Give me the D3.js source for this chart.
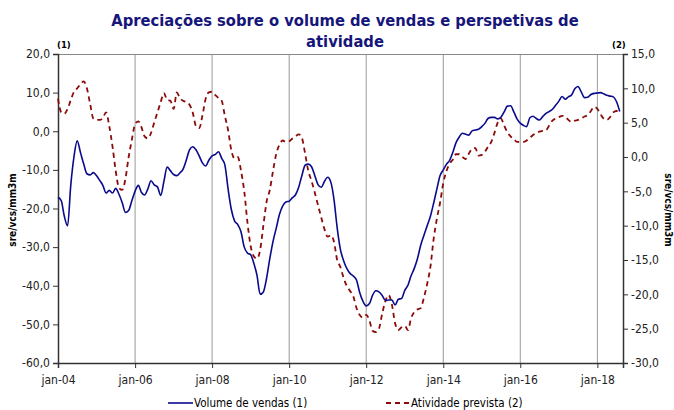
<!DOCTYPE html>
<html><head><meta charset="utf-8">
<script src="https://cdn.jsdelivr.net/npm/d3@7"></script>
<style>body{margin:0;background:#fff}svg{display:block}text{font-family:"DejaVu Sans Condensed","DejaVu Sans",sans-serif;font-stretch:condensed}</style>
</head><body><div id="chart"></div>
<script>
const titleLines = ["Apreciações sobre o volume de vendas e perspetivas de", "atividade"];
const seriesNames = ["Volume de vendas (1)", "Atividade prevista (2)"];
const axisTitle = "sre/vcs/mm3m";
const startMonth = new Date(2004, 0, 1);
const xTickLabels = ["jan-04","jan-06","jan-08","jan-10","jan-12","jan-14","jan-16","jan-18"];
const leftTicks = [20,10,0,-10,-20,-30,-40,-50,-60];
const rightTicks = [15,10,5,0,-5,-10,-15,-20,-25,-30];
// Volume de vendas (1), left axis, monthly from jan-04
const volumeVendas = [
-17.1,-18.0,-22.0,-24.5,-14.0,-6.5,-2.5,-5.5,-8.5,-11.0,-11.3,-10.7,
-11.5,-12.8,-14.0,-16.0,-15.3,-16.0,-14.8,-16.3,-18.5,-21.0,-20.5,-18.0,
-15.5,-14.0,-15.8,-16.5,-15.0,-12.8,-13.9,-14.4,-16.6,-13.0,-9.3,-10.2,
-11.2,-11.5,-10.8,-9.8,-7.5,-4.8,-4.0,-4.8,-6.4,-8.2,-9.0,-7.5,
-6.4,-6.0,-5.3,-7.0,-8.7,-15.0,-20.2,-23.2,-24.2,-26.0,-30.0,-31.5,
-32.0,-34.3,-37.2,-42.2,-41.6,-38.0,-33.0,-28.5,-25.0,-21.5,-19.3,-18.3,
-18.1,-17.2,-16.5,-14.5,-11.5,-8.8,-8.5,-9.2,-11.5,-13.8,-14.5,-13.0,
-11.9,-13.3,-17.5,-25.0,-30.5,-33.5,-35.5,-36.8,-37.5,-38.5,-41.8,-44.0,
-45.2,-44.6,-42.5,-41.3,-41.6,-42.5,-43.8,-43.7,-43.7,-45.0,-43.5,-43.3,
-41.2,-39.8,-37.5,-35.5,-33.0,-29.5,-27.0,-24.5,-22.0,-18.7,-15.0,-11.5,
-10.0,-8.5,-7.6,-5.5,-3.0,-1.5,-0.5,-0.8,-1.0,0.1,0.3,0.5,
1.2,2.1,3.3,3.6,3.6,3.2,3.6,5.0,6.5,6.6,5.0,3.2,
2.1,1.5,1.2,3.5,3.9,3.3,2.9,3.8,4.6,5.1,5.7,6.7,
7.8,9.0,8.3,8.9,9.4,11.0,11.6,10.2,8.7,8.8,9.5,9.8,
9.9,10.0,9.7,9.3,9.1,8.9,7.7,5.1];
// Atividade prevista (2), right axis, monthly from jan-04
const atividadePrevista = [
8.5,6.5,6.3,7.0,8.3,9.5,10.0,10.6,11.0,10.0,7.7,5.6,
5.4,5.4,5.7,6.5,4.5,1.5,-2.0,-4.5,-4.8,-3.2,0.0,2.5,
4.8,5.2,4.4,3.0,2.7,3.5,5.0,6.5,8.0,9.3,8.3,8.2,
7.0,9.4,8.6,8.2,8.0,7.6,6.5,4.5,4.2,6.0,8.5,9.4,
9.5,9.0,8.6,8.2,6.0,3.9,1.0,-0.2,0.0,-2.0,-5.0,-9.5,
-13.0,-14.5,-14.8,-13.5,-10.0,-6.5,-4.8,-2.0,0.5,1.8,2.4,2.2,
2.3,2.7,3.0,3.3,2.8,0.5,-2.0,-3.5,-5.2,-7.0,-8.8,-10.5,
-11.6,-11.4,-12.3,-15.0,-16.0,-17.6,-18.8,-19.5,-20.3,-22.0,-23.0,-23.4,
-23.0,-23.8,-25.3,-25.5,-25.0,-22.8,-21.0,-20.1,-21.5,-24.2,-25.2,-24.8,
-24.6,-25.2,-23.5,-22.6,-22.2,-22.0,-20.5,-18.5,-16.0,-12.0,-9.0,-6.7,
-3.8,-2.0,-1.0,-0.4,0.4,0.4,0.0,-0.3,0.5,1.2,1.3,0.2,
0.3,0.8,1.5,2.2,3.5,5.0,5.6,4.6,3.6,3.0,2.6,2.2,
2.2,2.2,2.4,2.8,3.2,3.5,3.7,3.8,3.9,4.6,5.3,5.6,
5.8,6.0,5.9,5.4,5.1,5.3,5.4,5.6,5.9,6.1,6.7,7.3,
7.0,6.2,5.6,5.4,5.8,6.5,6.7,6.7];

const W = 674, H = 410;
const m = {left: 58, right: 623, top: 54, bottom: 363};
const svg = d3.select("#chart").append("svg").attr("width", W).attr("height", H);
const monthDate = i => new Date(2004, i, 1);
const x = d3.scaleTime().domain([startMonth, new Date(2018, 8, 1)]).range([m.left, m.right]);
const yL = d3.scaleLinear().domain([-60, 20]).range([m.bottom, m.top]);
const yR = d3.scaleLinear().domain([-30, 15]).range([m.bottom, m.top]);
const xTickDates = xTickLabels.map((_, i) => new Date(2004 + 2 * i, 0, 1));
const fmt = v => d3.format(".1f")(v).replace(".", ",").replace("−", "-");

// title
svg.append("g").selectAll("text").data(titleLines).join("text")
  .attr("x", 345).attr("y", (d, i) => 26 + i * 21).attr("text-anchor", "middle")
  .attr("font-size", 16.4).attr("font-weight", "bold").attr("fill", "#16167a").text(d => d);

// gridlines
svg.append("g").selectAll("line").data(xTickDates.slice(1)).join("line")
  .attr("x1", d => x(d)).attr("x2", d => x(d)).attr("y1", m.top).attr("y2", m.bottom)
  .attr("stroke", "#999").attr("stroke-width", 1);
svg.append("line").attr("x1", m.left).attr("x2", m.right).attr("y1", m.top + 0.5).attr("y2", m.top + 0.5)
  .attr("stroke", "#888");

// axes
const axL = svg.append("g").attr("transform", `translate(${m.left},0)`)
  .call(d3.axisLeft(yL).tickValues(leftTicks).tickFormat(fmt).tickSize(5));
const axR = svg.append("g").attr("transform", `translate(${m.right},0)`)
  .call(d3.axisRight(yR).tickValues(rightTicks).tickFormat(fmt).tickSize(5));
const axB = svg.append("g").attr("transform", `translate(0,${m.bottom})`)
  .call(d3.axisBottom(x).tickValues(xTickDates).tickFormat((d, i) => xTickLabels[i]).tickSize(5));
[axL, axR, axB].forEach(g => {
  g.select(".domain").attr("stroke", "#333").attr("stroke-width", 1.5);
  g.selectAll(".tick line").attr("stroke", "#333");
  g.selectAll("text").attr("font-size", 12).attr("fill", "#222")
    .style("font-family", "'DejaVu Sans Condensed','DejaVu Sans',sans-serif");
});
axB.selectAll("text").attr("dy", "1.05em");

// axis titles
svg.append("text").attr("transform", "translate(16,210) rotate(-90)").attr("text-anchor", "middle")
  .attr("font-size", 10).attr("font-weight", "bold").text(axisTitle);
svg.append("text").attr("transform", "translate(665,210) rotate(90)").attr("text-anchor", "middle")
  .attr("font-size", 10).attr("font-weight", "bold").text(axisTitle);
svg.append("text").attr("x", 57).attr("y", 48).attr("font-size", 9.5).attr("font-weight", "bold").text("(1)");
svg.append("text").attr("x", 612).attr("y", 48).attr("font-size", 9.5).attr("font-weight", "bold").text("(2)");

// lines
const lineL = d3.line().x((d, i) => x(monthDate(i))).y(d => yL(d)).curve(d3.curveMonotoneX);
const lineR = d3.line().x((d, i) => x(monthDate(i))).y(d => yR(d)).curve(d3.curveMonotoneX);
svg.append("path").datum(atividadePrevista).attr("d", lineR).attr("fill", "none")
  .attr("stroke", "#8b0a0a").attr("stroke-width", 1.8).attr("stroke-dasharray", "5,4");
svg.append("path").datum(volumeVendas).attr("d", lineL).attr("fill", "none")
  .attr("stroke", "#0a0a8c").attr("stroke-width", 1.6);

// legend
const lg = svg.append("g");
lg.append("line").attr("x1", 168).attr("x2", 193).attr("y1", 403).attr("y2", 403)
  .attr("stroke", "#0a0a8c").attr("stroke-width", 1.6);
lg.append("text").attr("x", 194).attr("y", 407).attr("font-size", 11.5).text(seriesNames[0]);
lg.append("line").attr("x1", 386).attr("x2", 410).attr("y1", 403).attr("y2", 403)
  .attr("stroke", "#8b0a0a").attr("stroke-width", 1.8).attr("stroke-dasharray", "5,4");
lg.append("text").attr("x", 411).attr("y", 407).attr("font-size", 11.5).text(seriesNames[1]);
</script></body></html>
